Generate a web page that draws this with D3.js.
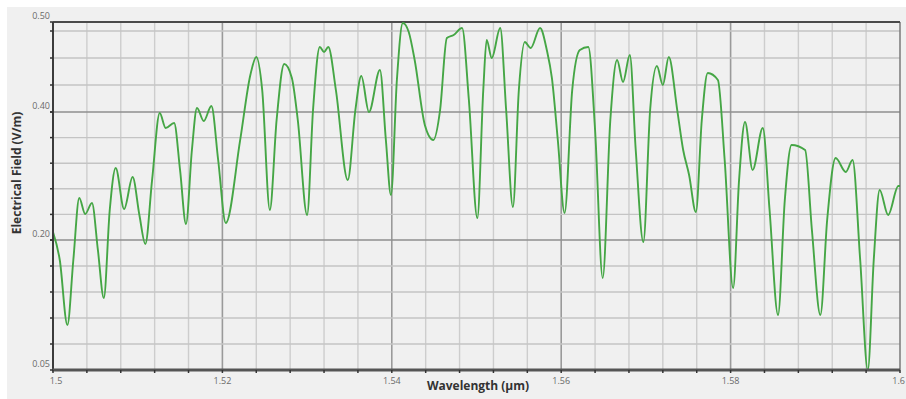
<!DOCTYPE html>
<html>
<head>
<meta charset="utf-8">
<script src="https://cdn.jsdelivr.net/npm/d3@7"></script>
<style>
  html, body { margin: 0; padding: 0; background: #ffffff; }
  svg { display: block; }
</style>
</head>
<body>
<svg id="chart" width="906" height="399"></svg>
<script>
// Wavelength samples (µm) and the electrical field magnitude (V/m) at each one
const wavelength = [
  1.5000, 1.5008, 1.5017, 1.5024, 1.5031, 1.5038, 1.5046, 1.5053, 1.5060, 1.5067,
  1.5074, 1.5084, 1.5094, 1.5102, 1.5109, 1.5117, 1.5126, 1.5133, 1.5143, 1.5150,
  1.5157, 1.5164, 1.5170, 1.5178, 1.5187, 1.5195, 1.5204, 1.5221, 1.5233, 1.5240,
  1.5247, 1.5256, 1.5264, 1.5273, 1.5282, 1.5289, 1.5300, 1.5307, 1.5315, 1.5320,
  1.5325, 1.5334, 1.5348, 1.5357, 1.5364, 1.5373, 1.5386, 1.5393, 1.5399, 1.5406,
  1.5413, 1.5420, 1.5427, 1.5439, 1.5449, 1.5457, 1.5465, 1.5473, 1.5483, 1.5491,
  1.5501, 1.5508, 1.5512, 1.5518, 1.5528, 1.5535, 1.5543, 1.5550, 1.5557, 1.5564,
  1.5575, 1.5583, 1.5589, 1.5596, 1.5604, 1.5613, 1.5622, 1.5632, 1.5640, 1.5649,
  1.5658, 1.5666, 1.5673, 1.5681, 1.5688, 1.5697, 1.5705, 1.5713, 1.5720, 1.5727,
  1.5737, 1.5744, 1.5751, 1.5759, 1.5766, 1.5773, 1.5785, 1.5793, 1.5803, 1.5810,
  1.5817, 1.5826, 1.5838, 1.5846, 1.5856, 1.5864, 1.5872, 1.5888, 1.5896, 1.5906,
  1.5914, 1.5924, 1.5936, 1.5944, 1.5953, 1.5962, 1.5969, 1.5976, 1.5986, 1.5998,
  1.6000
];
const field = [
  0.2125, 0.1769, 0.1019, 0.1769, 0.2656, 0.2406, 0.2578, 0.1885, 0.1331, 0.2469,
  0.3125, 0.2484, 0.2984, 0.2391, 0.1954, 0.2938, 0.3984, 0.3750, 0.3828, 0.3094,
  0.2250, 0.3406, 0.4044, 0.3859, 0.4067, 0.3250, 0.2266, 0.3563, 0.4411, 0.4611,
  0.4244, 0.2469, 0.3875, 0.4533, 0.4378, 0.3875, 0.2391, 0.4022, 0.4722, 0.4667,
  0.4722, 0.4244, 0.2938, 0.4022, 0.4400, 0.4000, 0.4467, 0.3563, 0.2703, 0.4356,
  0.4989, 0.4889, 0.4578, 0.3797, 0.3563, 0.4022, 0.4822, 0.4856, 0.4933, 0.4133,
  0.2344, 0.4244, 0.4800, 0.4600, 0.4933, 0.4022, 0.2516, 0.4244, 0.4778, 0.4711,
  0.4933, 0.4689, 0.4378, 0.3563, 0.2422, 0.4244, 0.4689, 0.4722, 0.3719, 0.1562,
  0.3875, 0.4578, 0.4333, 0.4633, 0.3406, 0.1977, 0.4022, 0.4511, 0.4300, 0.4611,
  0.4022, 0.3406, 0.3016, 0.2438, 0.3875, 0.4433, 0.4356, 0.3250, 0.1446, 0.2938,
  0.3844, 0.3094, 0.3750, 0.2469, 0.1135, 0.2625, 0.3484, 0.3406, 0.2156, 0.1135,
  0.2313, 0.3281, 0.3063, 0.3250, 0.1769, 0.0500, 0.1769, 0.2781, 0.2391, 0.2844,
  0.2844
];

// Axis ticks
const xMajorTicks = [1.5, 1.52, 1.54, 1.56, 1.58, 1.6];
const xTickLabels = ["1.5", "1.52", "1.54", "1.56", "1.58", "1.6"];
const xGridStep = 0.004;
const yMajorTicks = [0.05, 0.20, 0.40, 0.50];
const yTickLabels = ["0.05", "0.20", "0.40", "0.50"];
const yMinorTicks = [0.08, 0.11, 0.14, 0.17, 0.24, 0.28, 0.32, 0.36, 0.43, 0.46, 0.49];

const svg = d3.select("#chart");
const W = 906, H = 399;
const plot = { left: 53, right: 900, top: 22, bottom: 370 };

const x = d3.scaleLinear().domain([1.5, 1.6]).range([plot.left, plot.right]);
// The field axis is segmented: each labelled band has its own spacing
const y = d3.scaleLinear()
  .domain(yMajorTicks)
  .range([370, 240, 112, 22]);

// Panel background
svg.append("rect").attr("x", 7).attr("y", 7).attr("width", W - 7).attr("height", H - 7)
  .attr("fill", "#f0f0f0");

// Vertical grid
const xGrid = d3.range(0, 26).map(i => +(1.5 + i * xGridStep).toFixed(3));
const isXMajor = v => xMajorTicks.some(t => Math.abs(t - v) < 1e-6);
svg.append("g").selectAll("line").data(xGrid.filter(v => v > 1.5 && v < 1.6)).join("line")
  .attr("x1", d => x(d)).attr("x2", d => x(d))
  .attr("y1", plot.top).attr("y2", plot.bottom)
  .attr("stroke", d => isXMajor(d) ? "#9a9a9a" : "#cdcdcd")
  .attr("stroke-width", d => isXMajor(d) ? 1.6 : 1.4);

// Horizontal grid
const yGrid = yMinorTicks.concat([0.20, 0.40]);
svg.append("g").selectAll("line").data(yGrid).join("line")
  .attr("x1", plot.left).attr("x2", plot.right)
  .attr("y1", d => y(d)).attr("y2", d => y(d))
  .attr("stroke", d => (d === 0.20 || d === 0.40) ? "#8f8f8f" : "#c4c4c4")
  .attr("stroke-width", d => (d === 0.20 || d === 0.40) ? 1.6 : 1.4);

// Frame
svg.append("line").attr("x1", plot.right).attr("x2", plot.right)
  .attr("y1", plot.top).attr("y2", plot.bottom).attr("stroke", "#7a7a7a").attr("stroke-width", 1.5);
svg.append("line").attr("x1", plot.left).attr("x2", plot.right)
  .attr("y1", plot.top).attr("y2", plot.top).attr("stroke", "#4a4a4a").attr("stroke-width", 2);

// Field curve
const line = d3.line()
  .x((d, i) => x(wavelength[i]))
  .y(d => y(d))
  .curve(d3.curveMonotoneX);
svg.append("path").datum(field)
  .attr("d", line)
  .attr("fill", "none")
  .attr("stroke", "#45a645")
  .attr("stroke-width", 1.9)
  .attr("stroke-linejoin", "round");

// Axes lines
svg.append("line").attr("x1", plot.left).attr("x2", plot.left)
  .attr("y1", plot.top).attr("y2", plot.bottom + 1).attr("stroke", "#3c3c3c").attr("stroke-width", 2);
svg.append("line").attr("x1", plot.left - 1).attr("x2", plot.right)
  .attr("y1", plot.bottom).attr("y2", plot.bottom).attr("stroke", "#555").attr("stroke-width", 3);

// Tick marks
svg.append("g").selectAll("line").data(yGrid.concat(yMajorTicks)).join("line")
  .attr("x1", plot.left - 3).attr("x2", plot.left)
  .attr("y1", d => y(d)).attr("y2", d => y(d))
  .attr("stroke", "#333").attr("stroke-width", 1.5);
svg.append("g").selectAll("line").data(xGrid).join("line")
  .attr("x1", d => x(d)).attr("x2", d => x(d))
  .attr("y1", plot.bottom).attr("y2", plot.bottom + 3)
  .attr("stroke", "#333").attr("stroke-width", 1.5);

// Tick labels
svg.append("g").selectAll("text").data(yMajorTicks).join("text")
  .attr("x", plot.left - 3).attr("y", d => y(d) - 3)
  .attr("text-anchor", "end")
  .attr("font-family", "'Open Sans', sans-serif").attr("font-size", 9)
  .attr("fill", "#6a6a6a")
  .text((d, i) => yTickLabels[i]);
svg.append("g").selectAll("text").data(xMajorTicks).join("text")
  .attr("x", d => d === 1.6 ? W - 1 : x(d) + (d === 1.5 ? 3 : 0)).attr("y", 384)
  .attr("text-anchor", d => d === 1.6 ? "end" : "middle")
  .attr("font-family", "'Open Sans', sans-serif").attr("font-size", 9)
  .attr("fill", "#6a6a6a")
  .text((d, i) => xTickLabels[i]);

// Axis titles
svg.append("text")
  .attr("x", 478).attr("y", 390)
  .attr("text-anchor", "middle")
  .attr("font-family", "'Open Sans', sans-serif").attr("font-size", 12).attr("font-weight", "bold")
  .attr("fill", "#333")
  .text("Wavelength (\u00b5m)");
svg.append("text")
  .attr("transform", "translate(21,173) rotate(-90)")
  .attr("text-anchor", "middle")
  .attr("font-family", "'Open Sans', sans-serif").attr("font-size", 12).attr("font-weight", "bold")
  .attr("fill", "#333")
  .text("Electrical Field (V/m)");
</script>
</body>
</html>
